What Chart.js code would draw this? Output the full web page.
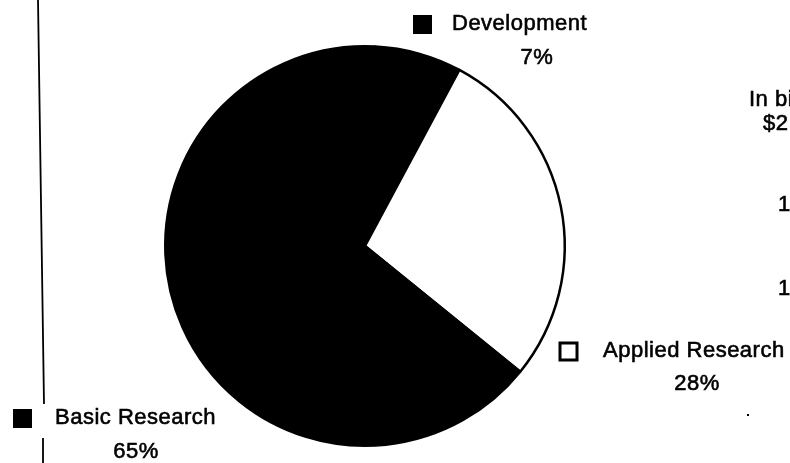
<!DOCTYPE html>
<html>
<head>
<meta charset="utf-8">
<style>
  html, body { margin: 0; padding: 0; background: #fff; }
  #wrap { width: 790px; height: 463px; position: relative; }
</style>
<script src="https://cdn.jsdelivr.net/npm/chart.js@4"></script>
</head>
<body>
<div id="wrap"><canvas id="pieChart"></canvas></div>
<script>
// slices, clockwise from the top
const categories = ['Development', 'Applied Research', 'Basic Research'];
const shares = [7, 28, 65];
const sliceColors = ['#000', '#fff', '#000'];

// cut-off text of the neighbouring chart on the right
const sideTexts = ['In bi', '$2', '1', '1'];

// label layout: [square x, square y, text x, percent x, percent y]
const labelSpots = [
    [422, 24, 452, 537, 58],
    [568, 351, 603, 697, 384],
    [22, 418, 55, 136, 452]
];

function heavyText(ctx, txt, x, y) {
    ctx.fillText(txt, x, y);
    ctx.strokeText(txt, x, y);
}

const labelPlugin = {
    id: 'labels',
    afterDraw(chart) {
        const ctx = chart.ctx;
        ctx.save();

        // scan edge line on the left
        ctx.strokeStyle = '#000';
        ctx.lineWidth = 1.8;
        ctx.beginPath();
        ctx.moveTo(38, 0);
        ctx.lineTo(44, 404);
        ctx.moveTo(43, 438);
        ctx.lineTo(43, 463);
        ctx.stroke();

        ctx.font = '22px "Liberation Sans", Arial, sans-serif';
        ctx.letterSpacing = '0.5px';
        ctx.textBaseline = 'middle';
        ctx.fillStyle = '#000';

        categories.forEach((name, i) => {
            const [sx, sy, tx, px, py] = labelSpots[i];
            if (sliceColors[i] === '#fff') {
                ctx.lineWidth = 3;
                ctx.strokeRect(sx - 8, sy - 8, 17, 17);
            } else {
                ctx.fillRect(sx - 9, sy - 9, 19, 19);
            }
            ctx.lineWidth = 0.6;
            ctx.textAlign = 'left';
            heavyText(ctx, name, tx, sy);
            ctx.textAlign = 'center';
            heavyText(ctx, shares[i] + '%', px, py);
        });

        ctx.textAlign = 'left';
        heavyText(ctx, sideTexts[0], 749, 100);
        heavyText(ctx, sideTexts[1], 763, 124);
        heavyText(ctx, sideTexts[2], 778, 205);
        heavyText(ctx, sideTexts[3], 778, 289);

        // scan specks
        ctx.fillRect(273, 267, 2, 2);
        ctx.fillRect(747, 414, 2, 2);
        ctx.restore();
    }
};

new Chart(document.getElementById('pieChart'), {
    type: 'pie',
    data: {
        labels: categories,
        datasets: [{
            data: shares,
            backgroundColor: sliceColors,
            borderColor: '#000',
            borderWidth: 2.5
        }]
    },
    options: {
        responsive: true,
        maintainAspectRatio: false,
        animation: false,
        rotation: 3,
        layout: { padding: { top: 45, bottom: 16, left: 164, right: 224 } },
        plugins: {
            legend: { display: false },
            tooltip: { enabled: false }
        }
    },
    plugins: [labelPlugin]
});
</script>
</body>
</html>
